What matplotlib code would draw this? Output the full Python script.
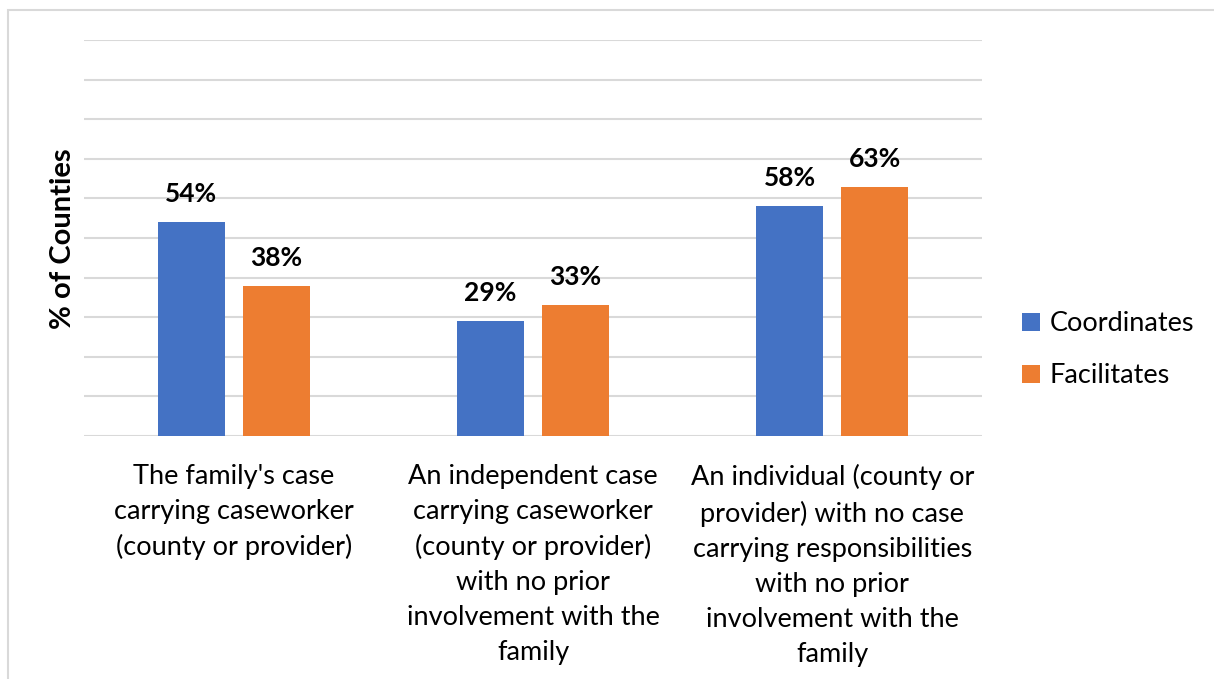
import matplotlib.pyplot as plt
from matplotlib.patches import Rectangle

categories = ["The family's case\ncarrying caseworker\n(county or provider)",
              "An independent case\ncarrying caseworker\n(county or provider)\nwith no prior\ninvolvement with the\nfamily",
              "An individual (county or\nprovider) with no case\ncarrying responsibilities\nwith no prior\ninvolvement with the\nfamily"]
coordinates = [54, 29, 58]
facilitates = [38, 33, 63]

blue = '#4472C4'
orange = '#ED7D31'

plt.rcParams['font.family'] = ['Lato', 'DejaVu Sans']

fig = plt.figure(figsize=(12.14, 6.79), dpi=100)
ax = fig.add_axes([84 / 1214, 1 - 436 / 679, 898 / 1214, 396 / 679])

x = range(len(categories))
w = 0.224
off = 0.142
b1 = ax.bar([i - off for i in x], coordinates, w, color=blue, label='Coordinates', zorder=3)
b2 = ax.bar([i + off for i in x], facilitates, w, color=orange, label='Facilitates', zorder=3)

for bars, vals in [(b1, coordinates), (b2, facilitates)]:
    for b, v in zip(bars, vals):
        ax.text(b.get_x() + b.get_width() / 2, v + 4, f'{v}%', ha='center', va='bottom',
                fontsize=19, fontweight='bold')

ax.set_xlim(-0.5, 2.5)
ax.set_ylim(0, 100)
ax.set_yticks(range(0, 101, 10))
ax.set_yticklabels([])
ax.tick_params(axis='both', length=0)
ax.grid(axis='y', color='#D9D9D9', linewidth=1.5, zorder=0)
for s in ax.spines.values():
    s.set_visible(False)

ax.set_xticks(list(x))
ax.set_xticklabels(categories, fontsize=19.5, linespacing=1.5, va='top')
ax.tick_params(axis='x', pad=20)

fig.text(63 / 1214, 1 - 239 / 679, '% of Counties', rotation=90, ha='center', va='center',
         fontsize=21, fontweight='bold')

leg = fig.legend(handles=[b1, b2], loc='upper left', bbox_to_anchor=(998 / 1214, 1 - 287 / 679),
                 frameon=False, fontsize=19.5, handlelength=0.65, handleheight=0.65,
                 handletextpad=0.35, labelspacing=1.0)

# chart border
fig.add_artist(Rectangle((8 / 1214, -0.01), 1.0, 1 - 10 / 679 + 0.01, transform=fig.transFigure,
                         fill=False, edgecolor='#D9D9D9', linewidth=1.5))

fig.savefig('out.png', dpi=100)
